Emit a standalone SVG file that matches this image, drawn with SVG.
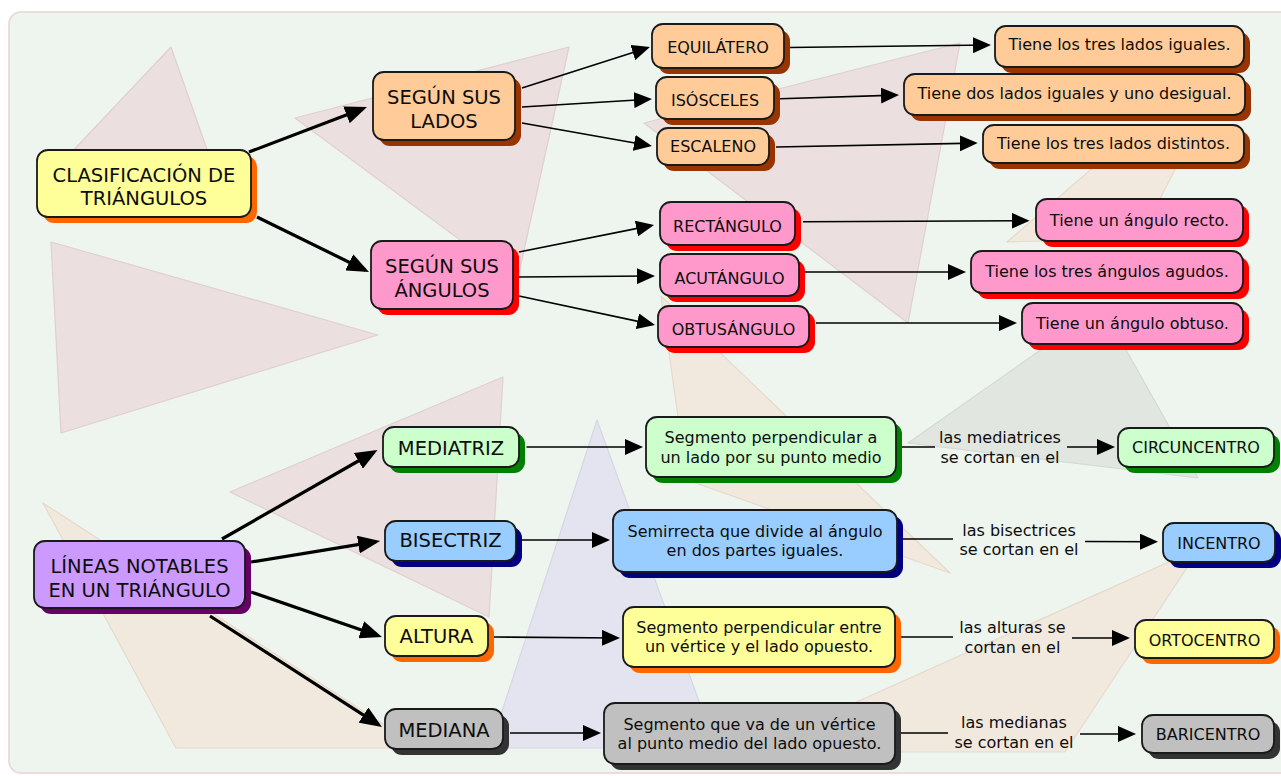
<svg xmlns="http://www.w3.org/2000/svg" width="1281" height="776" viewBox="0 0 1281 776">
<defs>
<marker id="ah" markerUnits="userSpaceOnUse" markerWidth="18" markerHeight="16" refX="15" refY="8" orient="auto"><path d="M0,0 L18,8 L0,16 z" fill="#000"/></marker>
<marker id="ahb" markerUnits="userSpaceOnUse" markerWidth="22" markerHeight="18" refX="18" refY="9" orient="auto"><path d="M0,0 L22,9 L0,18 z" fill="#000"/></marker>
</defs>
<style>
.tri{stroke-width:1.2;stroke-linejoin:round}
.pink{fill:#ebdfdf;stroke:#e0d0d0}
.beige{fill:#f2e9de;stroke:#e6d9cb}
.lav{fill:#e3e4ef;stroke:#d6d7e4}
.gray{fill:#e1e6e1;stroke:#d4d9d4}
.box{stroke:#1a1a1a;stroke-width:1.8}
text{font-family:"DejaVu Sans",Verdana,sans-serif;fill:#0d0d0d;text-anchor:middle}
.s{font-size:16px}
.b{font-size:19.5px}
.c{fill:none;stroke:#000}
.thin{stroke-width:1.6;marker-end:url(#ah)}
.thick{stroke-width:3.2;marker-end:url(#ahb)}
.seg{stroke-width:1.6}
</style>
<rect x="0" y="0" width="1281" height="776" fill="#ffffff"/>
<rect x="9" y="12" width="1290" height="761" rx="12" fill="#eef4ee" stroke="#ecdcdc" stroke-width="2"/>
<g id="background">
<polygon class="tri pink" points="171,47 50,175 216,175"/>
<polygon class="tri pink" points="295,118 569,47 517,282"/>
<polygon class="tri pink" points="51,242 378,335 61,433"/>
<polygon class="tri pink" points="230,492 503,377 489,617"/>
<polygon class="tri beige" points="43,503 176,748 420,748"/>
<polygon class="tri lav" points="597,420 490,748 716,748"/>
<polygon class="tri beige" points="1200,548 745,752 1065,752"/>
<polygon class="tri pink" points="644,123 960,43 908,323"/>
<polygon class="tri beige" points="1007,242 1125,140 1190,140 1140,238"/>
<polygon class="tri gray" points="908,443 1102,307 1198,478"/>
<polygon class="tri beige" points="661,296 687,480 950,573"/>
</g>
<g id="connectors">
<line class="c thick" x1="249" y1="152" x2="363.3" y2="108.4"/>
<line class="c thick" x1="257" y1="217" x2="365.4" y2="270.2"/>
<line class="c thin" x1="522" y1="88" x2="647.1" y2="47.9"/>
<line class="c thin" x1="522" y1="107" x2="649" y2="99.2"/>
<line class="c thin" x1="522" y1="123" x2="649" y2="145.5"/>
<line class="c thin" x1="519" y1="252" x2="651.1" y2="225.6"/>
<line class="c thin" x1="519" y1="277" x2="652" y2="276"/>
<line class="c thin" x1="519" y1="296" x2="652.1" y2="324.4"/>
<line class="c thin" x1="789" y1="47.5" x2="988" y2="45"/>
<line class="c thin" x1="780" y1="98.7" x2="896" y2="95.1"/>
<line class="c thin" x1="776" y1="147" x2="974.7" y2="143.1"/>
<line class="c thin" x1="803" y1="221.7" x2="1026.6" y2="220.7"/>
<line class="c thin" x1="805" y1="272" x2="963" y2="272"/>
<line class="c thin" x1="816" y1="323" x2="1014" y2="323"/>
<line class="c thick" x1="222" y1="539" x2="374" y2="452"/>
<line class="c thick" x1="251" y1="562" x2="376.1" y2="541.6"/>
<line class="c thick" x1="251" y1="592" x2="378.2" y2="635.7"/>
<line class="c thick" x1="210" y1="616" x2="378.6" y2="724.8"/>
<line class="c thin" x1="526.5" y1="447" x2="640" y2="447"/>
<line class="c thin" x1="522" y1="540" x2="607" y2="540"/>
<line class="c thin" x1="494" y1="637" x2="617" y2="638"/>
<line class="c thin" x1="510" y1="733" x2="598" y2="733"/>
<line class="c seg" x1="901" y1="447" x2="935" y2="447"/>
<line class="c thin" x1="1067" y1="447" x2="1112" y2="447"/>
<line class="c seg" x1="903" y1="539" x2="953" y2="539"/>
<line class="c thin" x1="1085" y1="541.5" x2="1155" y2="541.7"/>
<line class="c seg" x1="901" y1="637" x2="953" y2="637"/>
<line class="c thin" x1="1072" y1="638" x2="1127" y2="638"/>
<line class="c seg" x1="901" y1="733" x2="948" y2="733"/>
<line class="c thin" x1="1080" y1="734" x2="1133" y2="734"/>
<text class="s" x="1000" y="443">las mediatrices</text>
<text class="s" x="1000" y="463">se cortan en el</text>
<text class="s" x="1019" y="535.5">las bisectrices</text>
<text class="s" x="1019" y="554.5">se cortan en el</text>
<text class="s" x="1012.5" y="633">las alturas se</text>
<text class="s" x="1012.5" y="652.5">cortan en el</text>
<text class="s" x="1014" y="728">las medianas</text>
<text class="s" x="1014" y="747.5">se cortan en el</text>
</g>
<g id="n-clasificacion"><rect x="43" y="156" width="214" height="67" rx="11" fill="#ff6600"/><rect class="box" x="37" y="150" width="214" height="67" rx="11" fill="#ffff99"/><text class="b" x="144" y="182">CLASIFICACIÓN DE</text><text class="b" x="144" y="205">TRIÁNGULOS</text></g>
<g id="n-lados"><rect x="379" y="78" width="142" height="68" rx="11" fill="#993300"/><rect class="box" x="373" y="72" width="142" height="68" rx="11" fill="#ffcc99"/><text class="b" x="444" y="104">SEGÚN SUS</text><text class="b" x="444" y="128">LADOS</text></g>
<g id="n-angulos"><rect x="377" y="247" width="142" height="68" rx="11" fill="#ff0000"/><rect class="box" x="371" y="241" width="142" height="68" rx="11" fill="#ff99cc"/><text class="b" x="442" y="273">SEGÚN SUS</text><text class="b" x="442" y="297">ÁNGULOS</text></g>
<g id="n-equilatero"><rect x="658" y="30" width="132" height="44" rx="11" fill="#993300"/><rect class="box" x="652" y="24" width="132" height="44" rx="11" fill="#ffcc99"/><text class="s" x="718" y="53">EQUILÁTERO</text></g>
<g id="n-isosceles"><rect x="662" y="83" width="118" height="42" rx="11" fill="#993300"/><rect class="box" x="656" y="77" width="118" height="42" rx="11" fill="#ffcc99"/><text class="s" x="715" y="106">ISÓSCELES</text></g>
<g id="n-escaleno"><rect x="663" y="134" width="112" height="37" rx="11" fill="#993300"/><rect class="box" x="657" y="128" width="112" height="37" rx="11" fill="#ffcc99"/><text class="s" x="713" y="152">ESCALENO</text></g>
<g id="n-t-iguales"><rect x="1001" y="32" width="249" height="41" rx="11" fill="#993300"/><rect class="box" x="995" y="26" width="249" height="41" rx="11" fill="#ffcc99"/><text class="s" x="1119.5" y="50.3">Tiene los tres lados iguales.</text></g>
<g id="n-t-desigual"><rect x="910" y="80" width="341" height="41" rx="11" fill="#993300"/><rect class="box" x="904" y="74" width="341" height="41" rx="11" fill="#ffcc99"/><text class="s" x="1074.5" y="99">Tiene dos lados iguales y uno desigual.</text></g>
<g id="n-t-distintos"><rect x="989" y="131" width="261" height="38" rx="11" fill="#993300"/><rect class="box" x="983" y="125" width="261" height="38" rx="11" fill="#ffcc99"/><text class="s" x="1113.5" y="149">Tiene los tres lados distintos.</text></g>
<g id="n-rectangulo"><rect x="666" y="208" width="135" height="43" rx="11" fill="#ff0000"/><rect class="box" x="660" y="202" width="135" height="43" rx="11" fill="#ff99cc"/><text class="s" x="727.5" y="232">RECTÁNGULO</text></g>
<g id="n-acutangulo"><rect x="666" y="260" width="139" height="42" rx="11" fill="#ff0000"/><rect class="box" x="660" y="254" width="139" height="42" rx="11" fill="#ff99cc"/><text class="s" x="729.5" y="283.5">ACUTÁNGULO</text></g>
<g id="n-obtusangulo"><rect x="664" y="312" width="151" height="41" rx="11" fill="#ff0000"/><rect class="box" x="658" y="306" width="151" height="41" rx="11" fill="#ff99cc"/><text class="s" x="733.5" y="335">OBTUSÁNGULO</text></g>
<g id="n-t-recto"><rect x="1042" y="205" width="207" height="42" rx="11" fill="#ff0000"/><rect class="box" x="1036" y="199" width="207" height="42" rx="11" fill="#ff99cc"/><text class="s" x="1139.5" y="225.7">Tiene un ángulo recto.</text></g>
<g id="n-t-agudos"><rect x="977" y="257" width="272" height="42" rx="11" fill="#ff0000"/><rect class="box" x="971" y="251" width="272" height="42" rx="11" fill="#ff99cc"/><text class="s" x="1107" y="277.3">Tiene los tres ángulos agudos.</text></g>
<g id="n-t-obtuso"><rect x="1028" y="309" width="221" height="41" rx="11" fill="#ff0000"/><rect class="box" x="1022" y="303" width="221" height="41" rx="11" fill="#ff99cc"/><text class="s" x="1132.5" y="329">Tiene un ángulo obtuso.</text></g>
<g id="n-lineas"><rect x="40" y="547" width="211" height="67" rx="11" fill="#660066"/><rect class="box" x="34" y="541" width="211" height="67" rx="11" fill="#cc99ff"/><text class="b" x="139.5" y="573">LÍNEAS NOTABLES</text><text class="b" x="139.5" y="597">EN UN TRIÁNGULO</text></g>
<g id="n-mediatriz"><rect x="389" y="433" width="136" height="40" rx="11" fill="#008000"/><rect class="box" x="383" y="427" width="136" height="40" rx="11" fill="#ccffcc"/><text class="b" x="451" y="455">MEDIATRIZ</text></g>
<g id="n-bisectriz"><rect x="391" y="527" width="131" height="40" rx="11" fill="#000080"/><rect class="box" x="385" y="521" width="131" height="40" rx="11" fill="#99ccff"/><text class="b" x="450.5" y="547">BISECTRIZ</text></g>
<g id="n-altura"><rect x="391" y="622" width="103" height="40" rx="11" fill="#ff6600"/><rect class="box" x="385" y="616" width="103" height="40" rx="11" fill="#ffff99"/><text class="b" x="436.5" y="643">ALTURA</text></g>
<g id="n-mediana"><rect x="391" y="715" width="118" height="40" rx="11" fill="#333333"/><rect class="box" x="385" y="709" width="118" height="40" rx="11" fill="#c0c0c0"/><text class="b" x="444" y="737">MEDIANA</text></g>
<g id="n-def-mediatriz"><rect x="652" y="423" width="250" height="60" rx="11" fill="#008000"/><rect class="box" x="646" y="417" width="250" height="60" rx="11" fill="#ccffcc"/><text class="s" x="771" y="443">Segmento perpendicular a</text><text class="s" x="771" y="463">un lado por su punto medio</text></g>
<g id="n-def-bisectriz"><rect x="619" y="516" width="284" height="62" rx="11" fill="#000080"/><rect class="box" x="613" y="510" width="284" height="62" rx="11" fill="#99ccff"/><text class="s" x="755" y="536.5">Semirrecta que divide al ángulo</text><text class="s" x="755" y="556">en dos partes iguales.</text></g>
<g id="n-def-altura"><rect x="629" y="613" width="272" height="60" rx="11" fill="#ff6600"/><rect class="box" x="623" y="607" width="272" height="60" rx="11" fill="#ffff99"/><text class="s" x="759" y="632.5">Segmento perpendicular entre</text><text class="s" x="759" y="651.5">un vértice y el lado opuesto.</text></g>
<g id="n-def-mediana"><rect x="610" y="709" width="291" height="61" rx="11" fill="#333333"/><rect class="box" x="604" y="703" width="291" height="61" rx="11" fill="#c0c0c0"/><text class="s" x="749.5" y="730">Segmento que va de un vértice</text><text class="s" x="749.5" y="749">al punto medio del lado opuesto.</text></g>
<g id="n-circuncentro"><rect x="1124" y="434" width="156" height="39" rx="11" fill="#008000"/><rect class="box" x="1118" y="428" width="156" height="39" rx="11" fill="#ccffcc"/><text class="s" x="1196" y="453">CIRCUNCENTRO</text></g>
<g id="n-incentro"><rect x="1169" y="529" width="112" height="39" rx="11" fill="#000080"/><rect class="box" x="1163" y="523" width="112" height="39" rx="11" fill="#99ccff"/><text class="s" x="1219" y="549">INCENTRO</text></g>
<g id="n-ortocentro"><rect x="1141" y="626" width="139" height="38" rx="11" fill="#ff6600"/><rect class="box" x="1135" y="620" width="139" height="38" rx="11" fill="#ffff99"/><text class="s" x="1204.5" y="645.5">ORTOCENTRO</text></g>
<g id="n-baricentro"><rect x="1148" y="721" width="132" height="38" rx="11" fill="#333333"/><rect class="box" x="1142" y="715" width="132" height="38" rx="11" fill="#c0c0c0"/><text class="s" x="1208" y="740">BARICENTRO</text></g>
</svg>
